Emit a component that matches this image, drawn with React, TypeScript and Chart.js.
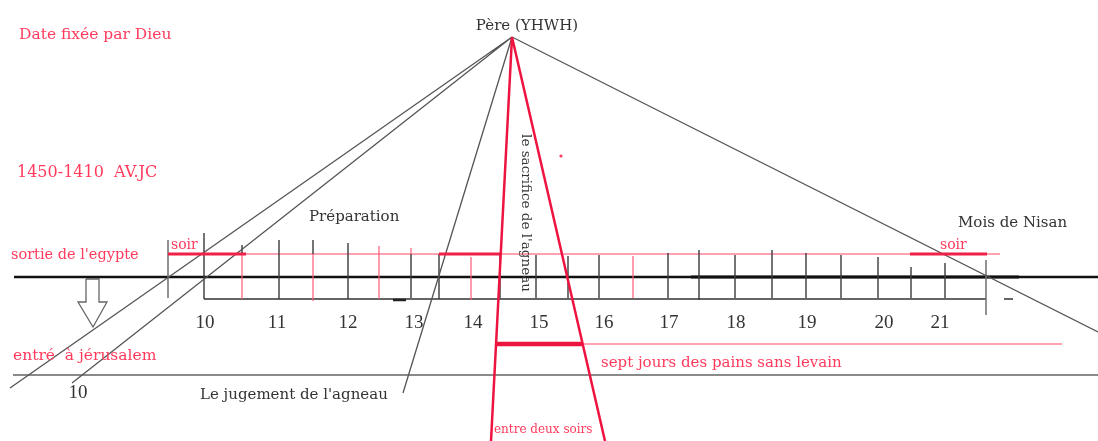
import React, { useEffect, useRef } from "react";
import { Chart, registerables } from "chart.js";

Chart.register(...registerables);

// ---- diagram data (x: 0..1098, y: 0..441 from top) ----
const apex = [512, 37];

// rays from the apex: end points
const grayRayEnds = [
  [10, 388],
  [72, 383],
  [403, 393],
  [1098, 332],
];
const redRayEnds = [
  [491, 441],
  [605, 441],
];

// horizontal lines: [xStart, xEnd, y]
const mainLine = [[14, 1098, 277]];
const mainLineBold = [[691, 1019, 277]];
const boxBottom = [[204, 986, 299], [1004, 1013, 299]];
const boxBottomBold = [[393, 406, 300]];
const eveningThin = [[246, 1000, 254]];
const eveningThick = [[168, 246, 254], [439, 500, 254], [910, 987, 254]];
const sevenDaysThick = [[497, 583, 344]];
const sevenDaysThin = [[583, 1062, 344]];
const lowerLine = [[13, 1098, 375]];

// ticks: [x, yTop, yBottom]
const blackTicks = [
  [204, 233, 299], [242, 245, 254], [279, 240, 299], [313, 240, 254], [348, 243, 299],
  [411, 254, 298], [439, 254, 299], [500, 254, 298], [536, 255, 298], [568, 256, 298],
  [599, 255, 298], [668, 253, 298], [699, 250, 300], [735, 255, 298], [772, 250, 298],
  [806, 253, 298], [841, 255, 298], [878, 257, 298], [911, 267, 298], [945, 263, 298],
];
const redTicks = [
  [242, 254, 299], [313, 254, 301], [379, 246, 299], [411, 248, 254], [471, 257, 300], [633, 256, 298],
];
const grayTicks = [
  [168, 240, 298],
  [986, 260, 315],
];

// hollow arrow outline
const arrowX = [86, 86, 78, 93, 107, 99, 99, 86];
const arrowY = [279, 302, 302, 327, 302, 302, 279, 279];

// day numbers
const dayLabels = ["10", "11", "12", "13", "14", "15", "16", "17", "18", "19", "20", "21"];
const dayX = [205, 277, 348, 414, 473, 539, 604, 669, 736, 807, 884, 940];
const dayY = 323;

const redDot = [[561, 156]];

// texts
const RED_TEXT = "#ff3a5c";
const DARK_TEXT = "#333333";
const texts = [
  { t: "Date fixée par Dieu", x: 19, y: 35, c: RED_TEXT, s: 15.5, a: "left" },
  { t: "Père (YHWH)", x: 527, y: 26, c: DARK_TEXT, s: 15, a: "center" },
  { t: "1450-1410  AV.JC", x: 17, y: 173, c: RED_TEXT, s: 16, a: "left" },
  { t: "Préparation", x: 309, y: 217, c: DARK_TEXT, s: 15, a: "left" },
  { t: "Mois de Nisan", x: 958, y: 223, c: DARK_TEXT, s: 15, a: "left" },
  { t: "sortie de l'egypte", x: 11, y: 255, c: RED_TEXT, s: 14.5, a: "left" },
  { t: "soir", x: 171, y: 245, c: RED_TEXT, s: 14, a: "left" },
  { t: "soir", x: 940, y: 245, c: RED_TEXT, s: 14, a: "left" },
  { t: "entré  à jérusalem", x: 13, y: 356, c: RED_TEXT, s: 15.5, a: "left" },
  { t: "10", x: 78, y: 393, c: DARK_TEXT, s: 19, a: "center", f: "Liberation Serif" },
  { t: "Le jugement de l'agneau", x: 200, y: 395, c: DARK_TEXT, s: 15, a: "left" },
  { t: "sept jours des pains sans levain", x: 601, y: 363, c: RED_TEXT, s: 15, a: "left" },
  { t: "entre deux soirs", x: 494, y: 430, c: RED_TEXT, s: 12, a: "left" },
];
const verticalText = { t: "le sacrifice de l'agneau", x: 525, y: 213, c: DARK_TEXT, s: 13.5 };

// ---- helpers ----
type P = { x: number; y: number | null };
function rays(ends: number[][]): P[] {
  const out: P[] = [];
  ends.forEach(([x, y]) => {
    out.push({ x: apex[0], y: apex[1] }, { x, y }, { x, y: null });
  });
  return out;
}
function hlines(list: number[][]): P[] {
  const out: P[] = [];
  list.forEach(([x1, x2, y]) => {
    out.push({ x: x1, y }, { x: x2, y }, { x: x2, y: null });
  });
  return out;
}
function vlines(list: number[][]): P[] {
  const out: P[] = [];
  list.forEach(([x, y1, y2]) => {
    out.push({ x, y: y1 }, { x, y: y2 }, { x, y: null });
  });
  return out;
}

function line(data: P[], color: string, width: number) {
  return {
    data,
    showLine: true,
    borderColor: color,
    backgroundColor: color,
    borderWidth: width,
    pointRadius: 0,
    pointHoverRadius: 0,
    spanGaps: false,
    fill: false,
    tension: 0,
  };
}

const labelPlugin = {
  id: "labels",
  afterDatasetsDraw(chart: any) {
    const { ctx, scales } = chart;
    const sx = scales.x;
    const sy = scales.y;
    ctx.save();
    ctx.textBaseline = "middle";
    texts.forEach((o: any) => {
      ctx.font = `${o.s}px "${o.f || "DejaVu Serif"}"`;
      ctx.fillStyle = o.c;
      ctx.textAlign = o.a;
      ctx.fillText(o.t, sx.getPixelForValue(o.x), sy.getPixelForValue(o.y));
    });
    ctx.font = `19px "Liberation Serif"`;
    ctx.fillStyle = DARK_TEXT;
    ctx.textAlign = "center";
    dayLabels.forEach((d, i) => {
      ctx.fillText(d, sx.getPixelForValue(dayX[i]), sy.getPixelForValue(dayY));
    });
    ctx.translate(sx.getPixelForValue(verticalText.x), sy.getPixelForValue(verticalText.y));
    ctx.rotate(Math.PI / 2);
    ctx.font = `${verticalText.s}px "DejaVu Serif"`;
    ctx.fillStyle = verticalText.c;
    ctx.fillText(verticalText.t, 0, 0);
    ctx.restore();
  },
};

export default function App() {
  const ref = useRef<HTMLCanvasElement>(null);
  useEffect(() => {
    if (!ref.current) return;
    const arrow: P[] = arrowX.map((x, i) => ({ x, y: arrowY[i] }));
    const chart = new Chart(ref.current, {
      type: "scatter",
      data: {
        datasets: [
          line(rays(redRayEnds), "#ee1440", 2.5),
          line(hlines(sevenDaysThick), "#ee1440", 4.5),
          line(hlines(eveningThick), "#f02048", 3),
          line(rays(grayRayEnds), "#555555", 1.3),
          line(vlines(redTicks), "rgba(255,90,120,0.85)", 1.4),
          line(vlines(blackTicks), "#3a3a3a", 1.4),
          line(vlines(grayTicks), "#777777", 1.6),
          line(hlines(mainLineBold), "#111111", 3),
          line(hlines(mainLine), "#111111", 2.4),
          line(hlines(boxBottomBold), "#222222", 2.5),
          line(hlines(boxBottom), "#333333", 1.3),
          line(hlines(eveningThin), "rgba(255,80,110,0.7)", 1.3),
          line(hlines(sevenDaysThin), "rgba(255,80,110,0.7)", 1.3),
          line(hlines(lowerLine), "#8a8a8a", 2),
          line(arrow, "#666666", 1.3),
          {
            data: redDot.map(([x, y]) => ({ x, y })),
            pointRadius: 1.6,
            pointHoverRadius: 0,
            backgroundColor: "#ff3a5c",
            borderWidth: 0,
            showLine: false,
          },
        ] as any,
      },
      options: {
        animation: false,
        responsive: true,
        maintainAspectRatio: false,
        events: [],
        layout: { padding: 0, autoPadding: false },
        plugins: { legend: { display: false }, tooltip: { enabled: false } },
        scales: {
          x: { type: "linear", min: 0, max: 1098, display: false },
          y: { type: "linear", min: 0, max: 441, reverse: true, display: false },
        },
      },
      plugins: [labelPlugin],
    });
    return () => chart.destroy();
  }, []);
  return (
    <div
      style={{
        position: "absolute",
        left: 0,
        top: 0,
        width: 1098,
        height: 441,
        background: "#ffffff",
      }}
    >
      <canvas ref={ref} />
    </div>
  );
}
